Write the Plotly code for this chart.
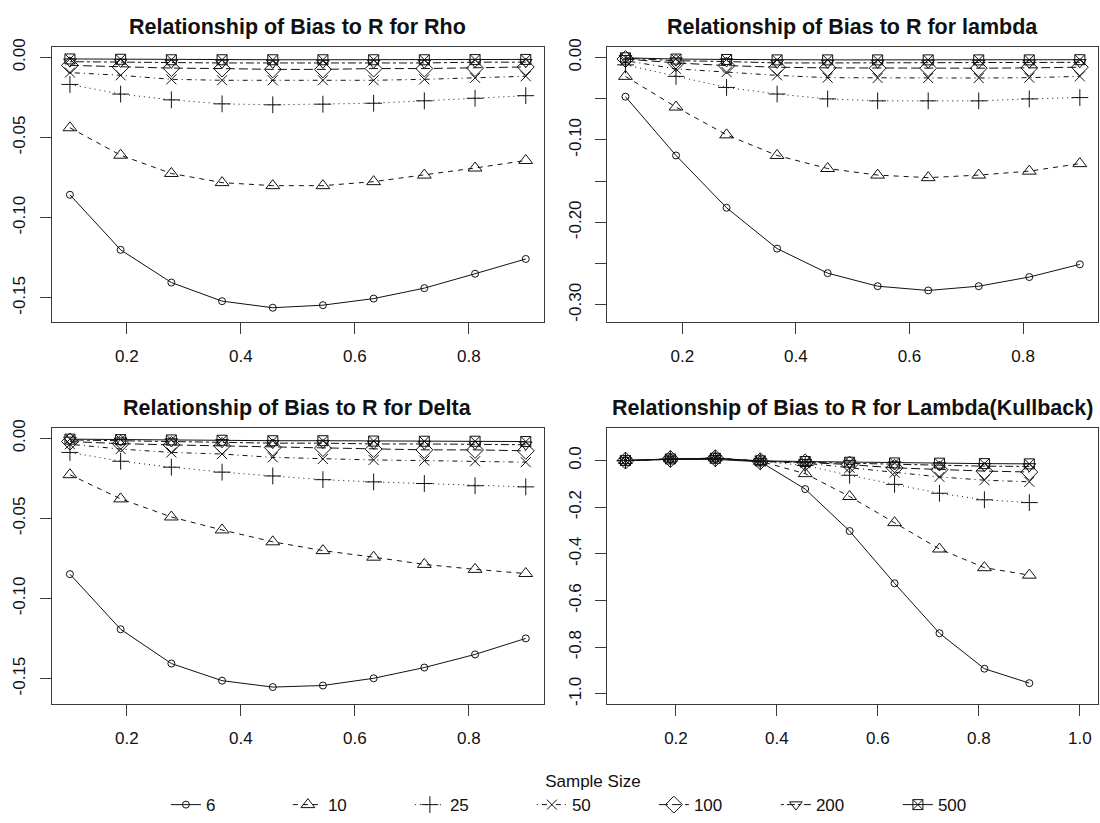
import plotly.graph_objects as go

# ---------------- data ----------------
r_values = [0.1, 0.189, 0.278, 0.367, 0.456, 0.544, 0.633, 0.722, 0.811, 0.9]
sample_sizes = ["6", "10", "25", "50", "100", "200", "500"]

panel_titles = [
    "Relationship of Bias to R for Rho",
    "Relationship of Bias to R for lambda",
    "Relationship of Bias to R for Delta",
    "Relationship of Bias to R for Lambda(Kullback)",
]

bias_rho = [
    [-0.0857, -0.1200, -0.1404, -0.1520, -0.1561, -0.1545, -0.1504, -0.1439, -0.1349, -0.1257],
    [-0.0439, -0.0610, -0.0724, -0.0781, -0.0800, -0.0800, -0.0775, -0.0734, -0.0690, -0.0643],
    [-0.0169, -0.0229, -0.0265, -0.0290, -0.0296, -0.0292, -0.0286, -0.0271, -0.0255, -0.0239],
    [-0.0095, -0.0112, -0.0137, -0.0143, -0.0143, -0.0143, -0.0143, -0.0137, -0.0128, -0.0118],
    [-0.0050, -0.0060, -0.0067, -0.0070, -0.0075, -0.0075, -0.0070, -0.0070, -0.0067, -0.0060],
    [-0.0027, -0.0030, -0.0035, -0.0035, -0.0035, -0.0035, -0.0035, -0.0035, -0.0030, -0.0030],
    [-0.0010, -0.0012, -0.0015, -0.0015, -0.0015, -0.0015, -0.0015, -0.0015, -0.0014, -0.0013],
]

bias_lambda = [
    [-0.0476, -0.1189, -0.1823, -0.2318, -0.2616, -0.2774, -0.2826, -0.2774, -0.2663, -0.2509],
    [-0.0230, -0.0602, -0.0939, -0.1189, -0.1347, -0.1427, -0.1458, -0.1427, -0.1379, -0.1288],
    [-0.0090, -0.0230, -0.0364, -0.0444, -0.0503, -0.0527, -0.0527, -0.0527, -0.0503, -0.0487],
    [-0.0040, -0.0139, -0.0178, -0.0218, -0.0246, -0.0250, -0.0250, -0.0250, -0.0246, -0.0230],
    [-0.0020, -0.0067, -0.0099, -0.0119, -0.0127, -0.0131, -0.0131, -0.0131, -0.0127, -0.0119],
    [-0.0010, -0.0040, -0.0050, -0.0067, -0.0067, -0.0067, -0.0067, -0.0067, -0.0065, -0.0060],
    [-0.0005, -0.0020, -0.0025, -0.0030, -0.0030, -0.0030, -0.0030, -0.0030, -0.0030, -0.0028],
]

bias_delta = [
    [-0.0848, -0.1192, -0.1406, -0.1513, -0.1553, -0.1543, -0.1498, -0.1431, -0.1349, -0.1249],
    [-0.0227, -0.0378, -0.0491, -0.0572, -0.0646, -0.0701, -0.0742, -0.0787, -0.0818, -0.0844],
    [-0.0088, -0.0143, -0.0180, -0.0211, -0.0235, -0.0258, -0.0272, -0.0282, -0.0296, -0.0303],
    [-0.0037, -0.0067, -0.0088, -0.0098, -0.0119, -0.0129, -0.0135, -0.0139, -0.0143, -0.0149],
    [-0.0020, -0.0033, -0.0041, -0.0047, -0.0057, -0.0061, -0.0067, -0.0072, -0.0072, -0.0078],
    [-0.0010, -0.0015, -0.0020, -0.0025, -0.0030, -0.0030, -0.0035, -0.0035, -0.0037, -0.0040],
    [-0.0005, -0.0008, -0.0010, -0.0012, -0.0015, -0.0015, -0.0017, -0.0018, -0.0018, -0.0020],
]

bias_kullback = [
    [0.000, 0.005, 0.005, -0.005, -0.122, -0.302, -0.526, -0.740, -0.892, -0.954],
    [0.000, 0.007, 0.011, -0.003, -0.056, -0.154, -0.266, -0.379, -0.459, -0.491],
    [0.000, 0.007, 0.010, -0.003, -0.021, -0.063, -0.102, -0.140, -0.168, -0.180],
    [0.000, 0.007, 0.010, -0.003, -0.011, -0.031, -0.052, -0.070, -0.084, -0.091],
    [0.000, 0.007, 0.010, -0.003, -0.008, -0.017, -0.031, -0.039, -0.045, -0.049],
    [0.000, 0.007, 0.010, -0.003, -0.007, -0.011, -0.017, -0.021, -0.024, -0.025],
    [0.000, 0.007, 0.010, -0.001, -0.004, -0.007, -0.010, -0.011, -0.013, -0.014],
]

# tick labels
x_ticks_a = [0.2, 0.4, 0.6, 0.8]
x_labels_a = ["0.2", "0.4", "0.6", "0.8"]
x_ticks_b = [0.2, 0.4, 0.6, 0.8, 1.0]
x_labels_b = ["0.2", "0.4", "0.6", "0.8", "1.0"]
y_ticks_rho = [0.0, -0.05, -0.10, -0.15]
y_labels_rho = ["0.00", "-0.05", "-0.10", "-0.15"]
y_ticks_lambda = [0.0, -0.05, -0.10, -0.15, -0.20, -0.25, -0.30]
y_labels_lambda = ["0.00", "", "-0.10", "", "-0.20", "", "-0.30"]
y_ticks_kull = [0.0, -0.2, -0.4, -0.6, -0.8, -1.0]
y_labels_kull = ["0.0", "-0.2", "-0.4", "-0.6", "-0.8", "-1.0"]

# ---------------- style ----------------
FONT = "Liberation Sans, Arial, sans-serif"
INK = "#111111"
AXIS = "#3a3a3a"
W, H = 1100, 823

symbols = ["circle-open", "triangle-up-open", "cross-thin-open", "x-thin-open",
           "diamond-open", "triangle-down-open", "square-x-open"]
sizes = [7, 12, 12, 10, 13, 11, 10]
dashes = ["solid", "5px,5px", "1px,4px", "1px,4px,5px,4px", "9px,4px", "3px,3px,8px,3px", "solid"]

# panel geometry (pixels)
cols = [(51.7, 544.0), (607.3, 1098.0)]
rows = [(38.3, 319.3), (426.7, 708.3)]

panels = [
    dict(data=bias_rho, xr=[0.068, 0.932], yr=[-0.1653, 0.0067], xt=x_ticks_a, xl=x_labels_a,
         yt=y_ticks_rho, yl=y_labels_rho, col=0, row=0),
    dict(data=bias_lambda, xr=[0.068, 0.932], yr=[-0.3214, 0.0131], xt=x_ticks_a, xl=x_labels_a,
         yt=y_ticks_lambda, yl=y_labels_lambda, col=1, row=0),
    dict(data=bias_delta, xr=[0.068, 0.932], yr=[-0.1661, 0.0065], xt=x_ticks_a, xl=x_labels_a,
         yt=y_ticks_rho, yl=y_labels_rho, col=0, row=1),
    dict(data=bias_kullback, xr=[0.064, 1.036], yr=[-1.045, 0.140], xt=x_ticks_b, xl=x_labels_b,
         yt=y_ticks_kull, yl=y_labels_kull, col=1, row=1),
]

fig = go.Figure()
layout = dict(
    width=W, height=H,
    margin=dict(l=0, r=0, t=0, b=0),
    paper_bgcolor="white", plot_bgcolor="white",
    font=dict(family=FONT, size=17, color=INK),
    showlegend=True,
)

annotations = []
for i, p in enumerate(panels):
    k = "" if i == 0 else str(i + 1)
    x0, x1 = cols[p["col"]]
    y0, y1 = rows[p["row"]]
    common = dict(showline=True, linecolor=AXIS, linewidth=1, mirror=True,
                  ticks="outside", ticklen=11, tickcolor=AXIS, tickwidth=1,
                  showgrid=False, zeroline=False, fixedrange=True,
                  tickfont=dict(family=FONT, size=17, color=INK))
    layout["xaxis" + k] = dict(common, domain=[x0 / W, x1 / W], range=p["xr"],
                               tickmode="array", tickvals=p["xt"], ticktext=p["xl"],
                               anchor="y" + k, ticklabelstandoff=7)
    layout["yaxis" + k] = dict(common, domain=[1 - y1 / H, 1 - y0 / H], range=p["yr"],
                               tickmode="array", tickvals=p["yt"], ticktext=p["yl"],
                               anchor="x" + k, tickangle=-90, ticklabelstandoff=8)
    for j, n in enumerate(sample_sizes):
        fig.add_trace(go.Scatter(
            x=r_values, y=p["data"][j], mode="lines+markers", name=n,
            xaxis="x" + k, yaxis="y" + k, showlegend=(i == 0), legendgroup=n,
            line=dict(color=INK, width=1, dash=dashes[j]),
            marker=dict(symbol=symbols[j], size=sizes[j], color=INK,
                        line=dict(color=INK, width=1)),
            cliponaxis=False,
        ))
    annotations.append(dict(
        text="<b>" + panel_titles[i] + "</b>", xref="paper", yref="paper",
        x=(x0 + x1) / 2 / W, y=1 - (y0 - 20) / H, xanchor="center", yanchor="middle",
        showarrow=False, font=dict(family=FONT, size=21.5, color=INK)))

layout["annotations"] = annotations
layout["legend"] = dict(
    orientation="h", x=0.539, xanchor="center", y=1 - 770 / H, yanchor="top",
    font=dict(family=FONT, size=17, color=INK),
    title=dict(text="Sample Size", side="top center", font=dict(family=FONT, size=17, color=INK)),
    entrywidth=77, entrywidthmode="pixels", itemwidth=30,
    bgcolor="rgba(0,0,0,0)", tracegroupgap=0,
)
fig.update_layout(**layout)
fig.write_html("out.html", config={"displayModeBar": False},
               post_script="document.body.style.margin='0';document.body.style.overflow='hidden';")
